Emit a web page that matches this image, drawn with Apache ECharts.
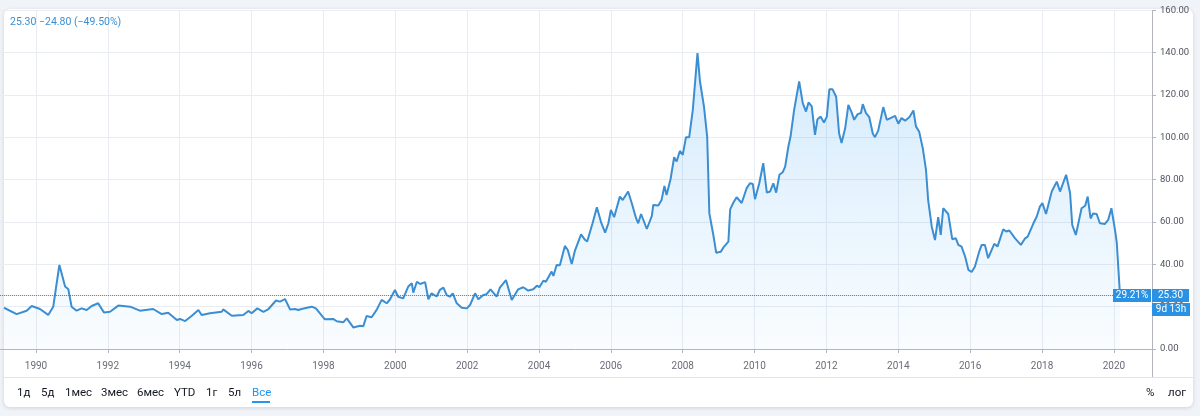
<!DOCTYPE html>
<html>
<head>
<meta charset="utf-8">
<title>Brent</title>
<script src="https://cdn.jsdelivr.net/npm/echarts/dist/echarts.min.js"></script>
<style>
  html, body { margin: 0; padding: 0; background: #f0f3f8; }
  .card {
    position: absolute; left: 4px; top: 9px; width: 1189px; height: 398px;
    background: #fff; border-radius: 6px; box-shadow: 0 1px 4px rgba(0, 0, 0, 0.14);
  }
  #chart { position: absolute; left: 0; top: 0; width: 1200px; height: 416px; }
</style>
</head>
<body>
<div class="card"></div>
<div id="chart"></div>
<script>
// время в долях года и цена закрытия
var years = [
  1989.11, 1989.46, 1989.74, 1989.88, 1990.11, 1990.34, 1990.48, 1990.65, 1990.81, 1990.90,
  1990.99, 1991.13, 1991.27, 1991.41, 1991.55, 1991.73, 1991.89, 1992.06, 1992.29, 1992.62,
  1992.89, 1993.26, 1993.50, 1993.68, 1993.92, 1994.01, 1994.15, 1994.33, 1994.52, 1994.61,
  1994.84, 1995.17, 1995.21, 1995.45, 1995.77, 1995.91, 1996.00, 1996.16, 1996.33, 1996.47,
  1996.68, 1996.79, 1996.93, 1997.07, 1997.21, 1997.30, 1997.39, 1997.67, 1997.79, 1998.04,
  1998.27, 1998.37, 1998.55, 1998.65, 1998.83, 1999.02, 1999.11, 1999.20, 1999.34, 1999.48,
  1999.62, 1999.76, 1999.85, 1999.99, 2000.08, 2000.22, 2000.36, 2000.46, 2000.50, 2000.60,
  2000.69, 2000.83, 2000.92, 2001.01, 2001.15, 2001.24, 2001.34, 2001.43, 2001.52, 2001.60,
  2001.71, 2001.85, 2001.99, 2002.08, 2002.22, 2002.31, 2002.45, 2002.54, 2002.65, 2002.82,
  2002.91, 2003.08, 2003.24, 2003.42, 2003.56, 2003.70, 2003.84, 2003.94, 2004.01, 2004.12,
  2004.19, 2004.35, 2004.40, 2004.49, 2004.58, 2004.72, 2004.80, 2004.91, 2005.00, 2005.17,
  2005.28, 2005.34, 2005.49, 2005.61, 2005.73, 2005.84, 2005.93, 2006.00, 2006.09, 2006.25,
  2006.33, 2006.48, 2006.58, 2006.70, 2006.76, 2006.84, 2007.00, 2007.14, 2007.18, 2007.32,
  2007.41, 2007.49, 2007.55, 2007.66, 2007.76, 2007.83, 2007.92, 2008.00, 2008.09, 2008.18,
  2008.28, 2008.41, 2008.48, 2008.59, 2008.68, 2008.74, 2008.85, 2008.93, 2009.06, 2009.15,
  2009.27, 2009.32, 2009.41, 2009.50, 2009.64, 2009.78, 2009.87, 2009.95, 2010.01, 2010.13,
  2010.24, 2010.34, 2010.43, 2010.52, 2010.60, 2010.69, 2010.78, 2010.85, 2010.94, 2011.00,
  2011.10, 2011.24, 2011.34, 2011.43, 2011.50, 2011.59, 2011.68, 2011.75, 2011.84, 2011.93,
  2012.01, 2012.08, 2012.17, 2012.27, 2012.35, 2012.42, 2012.52, 2012.61, 2012.70, 2012.77,
  2012.87, 2012.96, 2013.01, 2013.10, 2013.19, 2013.29, 2013.35, 2013.44, 2013.58, 2013.68,
  2013.91, 2014.00, 2014.09, 2014.19, 2014.31, 2014.42, 2014.49, 2014.58, 2014.68, 2014.77,
  2014.83, 2014.93, 2015.02, 2015.11, 2015.18, 2015.25, 2015.39, 2015.50, 2015.60, 2015.67,
  2015.76, 2015.86, 2015.95, 2016.04, 2016.13, 2016.25, 2016.32, 2016.41, 2016.50, 2016.67,
  2016.76, 2016.92, 2017.00, 2017.09, 2017.25, 2017.41, 2017.53, 2017.60, 2017.76, 2017.85,
  2017.94, 2018.01, 2018.11, 2018.27, 2018.41, 2018.50, 2018.67, 2018.78, 2018.84, 2018.94,
  2019.10, 2019.20, 2019.27, 2019.35, 2019.42, 2019.52, 2019.61, 2019.75, 2019.84, 2019.93,
  2020.03, 2020.08, 2020.17
];
var prices = [
  19.5, 16.5, 18.1, 20.3, 18.9, 16.1, 20.0, 39.7, 29.5, 28.2,
  20.0, 18.1, 19.2, 18.4, 20.3, 21.6, 17.3, 17.6, 20.5, 20.0,
  18.1, 18.9, 16.5, 17.1, 13.7, 14.2, 13.2, 15.6, 18.4, 16.1,
  16.9, 17.6, 18.7, 15.7, 16.1, 18.0, 16.9, 19.2, 17.6, 18.9,
  22.9, 22.4, 23.6, 18.7, 18.9, 18.4, 18.9, 20.0, 19.2, 14.0,
  14.2, 13.1, 12.6, 14.5, 10.2, 11.0, 10.8, 15.6, 15.0, 18.5,
  23.2, 21.6, 23.4, 27.9, 24.7, 23.9, 29.5, 31.1, 26.6, 31.8,
  30.7, 31.6, 23.5, 26.3, 24.8, 27.9, 29.0, 25.5, 24.7, 26.3,
  21.6, 19.5, 19.2, 20.8, 26.3, 23.5, 25.5, 25.9, 28.2, 24.7,
  29.0, 32.6, 23.2, 28.2, 29.2, 27.6, 28.2, 29.9, 29.2, 32.3,
  31.8, 36.6, 34.5, 39.7, 39.6, 48.7, 46.8, 40.2, 46.5, 54.2,
  51.6, 50.8, 59.4, 67.0, 59.7, 55.0, 59.4, 65.7, 62.3, 72.0,
  70.4, 74.4, 69.0, 61.8, 59.4, 63.8, 56.7, 62.9, 68.1, 67.8,
  70.4, 77.0, 72.8, 80.2, 90.6, 88.6, 93.6, 91.7, 100.1, 100.1,
  113.0, 139.8, 126.4, 114.6, 100.4, 64.2, 54.0, 45.5, 46.0, 48.4,
  50.7, 66.0, 69.2, 71.7, 69.0, 76.0, 78.3, 78.0, 70.8, 78.3,
  87.8, 73.9, 74.4, 78.3, 73.9, 82.3, 83.5, 86.2, 95.7, 100.4,
  113.0, 126.4, 116.2, 112.2, 116.5, 114.6, 101.2, 108.6, 109.8, 107.0,
  109.8, 122.7, 122.7, 119.2, 102.0, 97.3, 104.3, 115.4, 111.8, 108.3,
  111.0, 111.5, 115.7, 111.5, 109.6, 101.7, 100.1, 103.2, 114.3, 108.3,
  110.2, 106.5, 109.1, 107.9, 109.6, 112.7, 105.2, 102.7, 94.9, 84.6,
  70.4, 57.8, 51.5, 62.3, 53.9, 66.5, 63.8, 51.9, 52.3, 49.2,
  48.4, 43.6, 37.4, 36.4, 38.9, 46.0, 49.2, 49.2, 42.9, 49.7,
  48.4, 56.6, 55.5, 56.0, 52.3, 49.2, 52.3, 53.1, 59.4, 62.5,
  67.3, 68.9, 63.8, 74.4, 79.1, 74.4, 82.3, 73.7, 58.6, 53.9,
  66.5, 67.7, 72.0, 61.7, 64.0, 63.8, 59.4, 59.1, 61.0, 66.5,
  56.3, 50.1, 25.3
];
var rangeButtons = ['1д', '5д', '1мес', '3мес', '6мес', 'YTD', '1г', '5л', 'Все'];
var rangeX = [17, 41, 65, 101, 137, 174, 206, 228, 252];

var lineColor = '#3b8ed2';
var font = 'Roboto, "Noto Sans", sans-serif';

var last = prices[prices.length - 1];
var prev = prices[prices.length - 2];
var change = last - prev;
var pct = change / prev * 100;
function signed(v) {
    return (v < 0 ? '\u2212' : '+') + Math.abs(v).toFixed(2);
}
var headline = last.toFixed(2) + ' ' + signed(change) + ' (' + signed(pct) + '%)';

var myChart = echarts.init(document.getElementById('chart'));

var graphics = [
    { type: 'text', x: 10, y: 22, style: { text: headline, fill: '#3b8ed2', font: '10.5px ' + font, verticalAlign: 'middle' } },
    { type: 'line', shape: { x1: 4, y1: 377.5, x2: 1193, y2: 377.5 }, style: { stroke: '#e0e3eb', lineWidth: 1 } },
    { type: 'line', shape: { x1: 1152.5, y1: 349, x2: 1152.5, y2: 377 }, style: { stroke: '#b2b5be', lineWidth: 1 } },
    { type: 'rect', shape: { x: 252, y: 401, width: 18, height: 2 }, style: { fill: '#2196f3' } },
    { type: 'text', x: 1146, y: 393, style: { text: '%', fill: '#131722', font: '11.5px ' + font, verticalAlign: 'middle' } },
    { type: 'text', x: 1168, y: 393, style: { text: 'лог', fill: '#131722', font: '11.5px ' + font, verticalAlign: 'middle' } }
];
rangeButtons.forEach(function (t, i) {
    graphics.push({
        type: 'text', x: rangeX[i], y: 393,
        style: { text: t, fill: t === 'Все' ? '#2196f3' : '#131722', font: '11.5px ' + font, verticalAlign: 'middle' }
    });
});

var option = {
    animation: false,
    grid: { left: -35.86, right: 48, top: 10.4, bottom: 67, containLabel: false, outerBoundsMode: 'none' },
    xAxis: {
        type: 'value',
        min: 1988,
        max: 2021.06,
        interval: 2,
        offset: 6,
        axisLine: { lineStyle: { color: '#b2b5be' } },
        axisTick: { length: 4, lineStyle: { color: '#b2b5be' } },
        axisLabel: {
            color: '#6a6d78', fontSize: 10, fontFamily: font, margin: 6,
            showMaxLabel: false,
            formatter: function (v) { return v % 2 === 0 ? String(v) : ''; }
        },
        splitLine: { show: true, lineStyle: { color: '#e9ecf1' } }
    },
    yAxis: {
        type: 'value',
        position: 'right',
        min: 0,
        max: 160,
        interval: 20,
        axisLine: { show: true, lineStyle: { color: '#b2b5be' } },
        axisTick: { show: true, length: 4, lineStyle: { color: '#b2b5be' } },
        axisLabel: {
            color: '#50535e', fontSize: 9.5, fontFamily: font, margin: 8,
            formatter: function (v) { return v.toFixed(2); }
        },
        splitLine: { lineStyle: { color: '#e9ecf1' } }
    },
    series: [
        {
            type: 'line',
            data: years.map(function (y, i) { return [y, prices[i]]; }),
            showSymbol: false,
            lineStyle: { width: 2, color: lineColor },
            itemStyle: { color: lineColor },
            areaStyle: {
                color: new echarts.graphic.LinearGradient(0, 0, 0, 1, [
                    { offset: 0, color: 'rgba(33,150,243,0.28)' },
                    { offset: 1, color: 'rgba(33,150,243,0.03)' }
                ])
            },
            markLine: {
                silent: true,
                symbol: 'none',
                label: { show: false },
                lineStyle: { type: 'dotted', color: '#3f7f95', width: 1 },
                data: [{ yAxis: last }]
            }
        }
    ]
};
myChart.setOption(option);

// плашки цены у правой оси
var py = myChart.convertToPixel({ yAxisIndex: 0 }, last);
var boxes = [
    { x: 1113, y: py - 6.5, w: 38, text: '29.21%' },
    { x: 1152, y: py - 6.5, w: 37, text: last.toFixed(2) },
    { x: 1152, y: py + 7.5, w: 38, text: '9d 13h' }
];
boxes.forEach(function (b) {
    graphics.push({
        type: 'rect', z: 100, shape: { x: b.x, y: b.y, width: b.w, height: 13 }, style: { fill: '#2a91e3' }
    });
    graphics.push({
        type: 'text', z: 101, x: b.x + b.w / 2, y: b.y + 6.5,
        style: { text: b.text, fill: '#fff', font: '10px ' + font, align: 'center', verticalAlign: 'middle' }
    });
});
myChart.setOption({ graphic: graphics });
</script>
</body>
</html>
